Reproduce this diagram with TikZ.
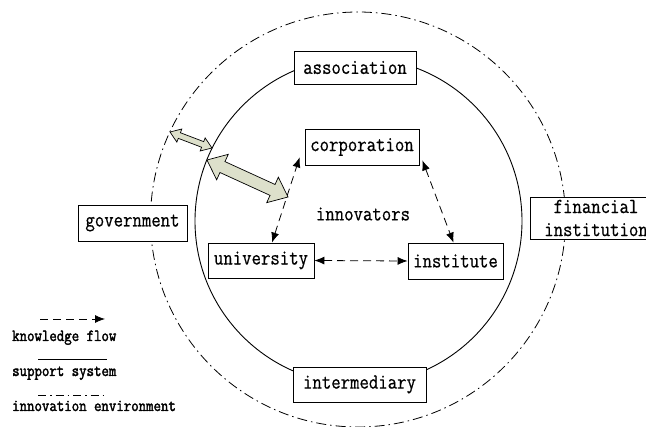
\documentclass[tikz,border=0pt]{standalone}
\usepackage{fontspec}
\usetikzlibrary{calc,arrows.meta}
\newfontfamily\boxfont[FakeStretch=0.85,FakeBold=0.6]{Latin Modern Mono}
\newfontfamily\legfont[FakeStretch=0.85,FakeBold=2]{Latin Modern Mono}
\definecolor{arrowfill}{RGB}{221,224,203}
\newcommand\blockarr[5]{%
  \draw[blockarrow] (#1) -- ($(#1)!#5!(#2)!#4!90:(#2)$) -- ($(#1)!#5!(#2)!#3!90:(#2)$)
    -- ($(#2)!#5!(#1)!#3!-90:(#1)$) -- ($(#2)!#5!(#1)!#4!-90:(#1)$) -- (#2)
    -- ($(#2)!#5!(#1)!#4!90:(#1)$) -- ($(#2)!#5!(#1)!#3!90:(#1)$)
    -- ($(#1)!#5!(#2)!#3!-90:(#2)$) -- ($(#1)!#5!(#2)!#4!-90:(#2)$) -- cycle;}
\tikzset{
  box/.style={draw, fill=white, line width=0.8pt, inner sep=0pt, align=center,
    minimum height=35pt, font=\boxfont\fontsize{21.5}{23}\selectfont},
  plain/.style={font=\boxfont\fontsize{21.5}{23}\selectfont, inner sep=0pt},
  legend/.style={font=\legfont\fontsize{17}{18}\selectfont, inner sep=0pt},
  flow/.style={line width=0.8pt, dash pattern=on 8pt off 5pt,
    {Latex[length=10pt,width=8pt]}-{Latex[length=10pt,width=8pt]}},
  flowone/.style={line width=0.8pt, dash pattern=on 8pt off 5pt,
    -{Latex[length=10pt,width=8pt]}},
  support/.style={line width=0.9pt},
  environ/.style={line width=0.8pt, dash pattern=on 10pt off 4pt on 1.5pt off 4pt},
  blockarrow/.style={draw, fill=arrowfill, line width=0.7pt, line join=miter},
}
\begin{document}
\begin{tikzpicture}[x=1pt, y=-1pt]
\useasboundingbox (0,0) rectangle (646,427);
\clip (0,0) rectangle (646,427);
% circles
\draw[environ] (358,219.5) circle[radius=207.5pt];
\draw[support] (358.5,221) circle[radius=163.5pt];
% boxes
\node[box, minimum width=122pt, minimum height=33pt] (association) at (355,67.5) {association};
\node[box, minimum width=114pt, minimum height=36pt] (corporation) at (362,147) {corporation};
\node[box, minimum width=106pt] (university) at (261,260.5) {university};
\node[box, minimum width=95pt, minimum height=36pt] (institute) at (455.5,261) {institute};
\node[box, minimum width=133pt] (intermediary) at (359.5,384.5) {intermediary};
\node[box, minimum width=109pt, minimum height=36pt] (government) at (132.5,223) {government};
\node[box, minimum width=132pt, minimum height=42pt] (financial) at (596,218) {financial\\institution};
\node[plain] (innovators) at (363,214) {innovators};
% knowledge flows
\coordinate (cu) at ($(corporation.south west)+(-5,-8)$);
\coordinate (uc) at ($(university.north)+(11,0)$);
\coordinate (ci) at ($(corporation.south east)+(3,-5)$);
\coordinate (ic) at ($(institute.north)+(-2,0)$);
\draw[flow] (uc) -- (cu);
\draw[flow] (ci) -- (ic);
\draw[flow] (university.east) -- (institute.west);
% block arrows
\coordinate (s1) at (170,132);
\coordinate (s2) at (212,148);
\coordinate (b1) at (207,160);
\coordinate (b2) at (288,197);
\blockarr{s1}{s2}{3pt}{7pt}{10pt}
\blockarr{b1}{b2}{6pt}{14pt}{17pt}
% legend
\coordinate (k1) at (40,319); \coordinate (k2) at (105,319);
\coordinate (p1) at (38,359); \coordinate (p2) at (107,359);
\coordinate (e1) at (38,395); \coordinate (e2) at (105,395);
\draw[flowone] (k1) -- (k2);
\draw[support] (p1) -- (p2);
\draw[environ, dash pattern=on 8pt off 4pt on 1.5pt off 4pt] (e1) -- (e2);
\node[legend, anchor=base west] (lk) at (12,341) {knowledge flow};
\node[legend, anchor=base west] (ls) at (12,376) {support system};
\node[legend, anchor=base west] (le) at (12,411) {innovation environment};
\end{tikzpicture}
\end{document}
